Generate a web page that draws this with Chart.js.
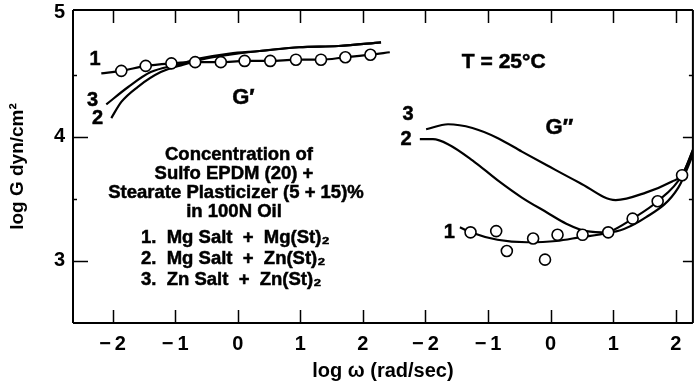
<!DOCTYPE html>
<html>
<head>
<meta charset="utf-8">
<script src="https://cdn.jsdelivr.net/npm/chart.js@4/dist/chart.umd.min.js"></script>
<style>
  html, body { margin: 0; padding: 0; background: #fff; }
  #wrap { width: 700px; height: 387px; }
</style>
</head>
<body>
<div id="wrap"><canvas id="grafik" width="700" height="387"></canvas></div>
<script>
// Sumbu x: dua panel (G' kiri, G'' kanan) berdampingan pada satu sumbu
const xTickPos = [0, 1, 2, 3, 4, 5, 6, 7, 8, 9];
const xTickLabels = ["\u2212\u20092", "\u2212\u20091", "0", "1", "2", "\u2212\u20092", "\u2212\u20091", "0", "1", "2"];
const yTickValues = [3, 4, 5];
const yMinor = [3.5, 4.5];

// G' (panel kiri), x = log omega
const gp1LineX = [-2.18, -1.86, -1.47, -1.06, -0.68, -0.27, 0.11, 0.52, 0.93, 1.33, 1.72, 2.12, 2.43];
const gp1LineY = [4.51, 4.53, 4.57, 4.59, 4.60, 4.60, 4.61, 4.61, 4.62, 4.62, 4.64, 4.66, 4.68];
const gp1PtsX = [-1.86, -1.47, -1.06, -0.68, -0.27, 0.11, 0.52, 0.93, 1.33, 1.72, 2.12];
const gp1PtsY = [4.53, 4.57, 4.59, 4.60, 4.60, 4.61, 4.61, 4.62, 4.62, 4.64, 4.66];
const gp2X = [-2.02, -1.86, -1.60, -1.23, -0.87, -0.50, -0.13, 0.35, 0.98, 1.61, 2.29];
const gp2Y = [4.15, 4.28, 4.40, 4.52, 4.58, 4.63, 4.66, 4.69, 4.72, 4.73, 4.76];
const gp3X = [-2.10, -1.75, -1.39, -0.96, -0.60, -0.13, 0.35, 0.98, 1.61, 2.29];
const gp3Y = [4.26, 4.40, 4.52, 4.58, 4.63, 4.67, 4.69, 4.72, 4.73, 4.76];

// G'' (panel kanan)
const gpp1LineX = [-1.45, -1.28, -0.85, -0.38, 0.09, 0.46, 0.92, 1.31, 1.71, 2.10, 2.31];
const gpp1LineY = [3.27, 3.23, 3.17, 3.15, 3.16, 3.19, 3.23, 3.34, 3.48, 3.69, 3.94];
const gpp1PtsX = [-1.28, -0.87, -0.70, -0.28, -0.09, 0.11, 0.51, 0.92, 1.31, 1.71, 2.10];
const gpp1PtsY = [3.23, 3.24, 3.08, 3.18, 3.01, 3.21, 3.21, 3.23, 3.34, 3.48, 3.69];
const gpp2X = [-2.09, -1.88, -1.64, -1.25, -0.85, -0.46, -0.06, 0.25, 0.57, 0.92, 1.52, 2.04, 2.31];
const gpp2Y = [3.98, 3.98, 3.94, 3.81, 3.65, 3.51, 3.39, 3.30, 3.24, 3.23, 3.35, 3.59, 3.90];
const gpp3X = [-1.99, -1.64, -1.25, -0.85, -0.46, -0.06, 0.46, 1.04, 1.52, 1.94, 2.10, 2.31];
const gpp3Y = [4.06, 4.10, 4.07, 3.99, 3.88, 3.77, 3.63, 3.49, 3.55, 3.64, 3.69, 3.94];

const FONT = "'Liberation Sans', Arial, Helvetica, sans-serif";
const geser = [2, 7]; // offset panel pada sumbu gabungan
const titik = (xs, ys, panel) => xs.map((v, i) => ({ x: v + geser[panel], y: ys[i] }));

const garis = (xs, ys, panel) => ({
  data: titik(xs, ys, panel),
  borderColor: "#000",
  borderWidth: 2.2,
  pointRadius: 0,
  showLine: true,
  tension: 0.4,
  cubicInterpolationMode: "monotone",
  fill: false,
});
const bulat = (xs, ys, panel) => ({
  data: titik(xs, ys, panel),
  showLine: false,
  pointRadius: 5.5,
  pointBackgroundColor: "#fff",
  pointBorderColor: "#000",
  pointBorderWidth: 1.6,
});

// label kurva, dalam koordinat data
const catatan = [
  { t: "1", p: 0, x: -2.28, y: 4.62, s: 20 },
  { t: "3", p: 0, x: -2.32, y: 4.29, s: 20 },
  { t: "2", p: 0, x: -2.24, y: 4.15, s: 20 },
  { t: "G\u2032", p: 0, x: 0.09, y: 4.31, s: 22 },
  { t: "T = 25\u00b0C", p: 1, x: -0.75, y: 4.60, s: 21 },
  { t: "3", p: 1, x: -2.28, y: 4.18, s: 20 },
  { t: "2", p: 1, x: -2.31, y: 3.98, s: 20 },
  { t: "G\u2033", p: 1, x: 0.14, y: 4.07, s: 22 },
  { t: "1", p: 1, x: -1.62, y: 3.23, s: 20 },
];

function tulis(ctx, s, x, y) {
  ctx.fillText(s, x, y);
  ctx.strokeText(s, x, y);
}

const pluginBingkai = {
  id: "bingkai",
  afterDatasetsDraw(chart) {
    const { ctx, chartArea: a, scales: { x, y } } = chart;
    ctx.save();
    ctx.strokeStyle = "#000";
    ctx.lineWidth = 2;
    ctx.beginPath();
    ctx.moveTo(a.left, a.top); ctx.lineTo(a.right, a.top);
    ctx.moveTo(a.left, a.top); ctx.lineTo(a.left, a.bottom);
    ctx.moveTo(a.left, a.bottom); ctx.lineTo(a.right, a.bottom);
    ctx.moveTo(a.right, a.top); ctx.lineTo(a.right, a.bottom);
    ctx.stroke();
    ctx.lineWidth = 1.5;
    ctx.beginPath();
    xTickPos.forEach((v) => {
      const px = Math.round(x.getPixelForValue(v)) + 0.5;
      ctx.moveTo(px, a.bottom); ctx.lineTo(px, a.bottom - 13);
      ctx.moveTo(px, a.top); ctx.lineTo(px, a.top + 13);
    });
    [3, 4].forEach((v) => {
      const py = Math.round(y.getPixelForValue(v)) + 0.5;
      ctx.moveTo(a.left, py); ctx.lineTo(a.left + 15, py);
      ctx.moveTo(a.right, py); ctx.lineTo(a.right - 10, py);
    });
    yMinor.forEach((v) => {
      const py = Math.round(y.getPixelForValue(v)) + 0.5;
      ctx.moveTo(a.left, py); ctx.lineTo(a.left + 4, py);
      ctx.moveTo(a.right, py); ctx.lineTo(a.right - 4, py);
    });
    ctx.stroke();

    // label kurva
    ctx.fillStyle = "#000";
    ctx.lineWidth = 0.5;
    ctx.textAlign = "center";
    ctx.textBaseline = "middle";
    catatan.forEach((c) => {
      ctx.font = `bold ${c.s}px ${FONT}`;
      tulis(ctx, c.t, x.getPixelForValue(c.x + geser[c.p]), y.getPixelForValue(c.y));
    });

    // keterangan komposisi
    ctx.font = `bold 18.5px ${FONT}`;
    tulis(ctx, "Concentration of", 239, 155);
    tulis(ctx, "Sulfo EPDM (20) +", 234, 174);
    tulis(ctx, "Stearate Plasticizer (5 + 15)%", 236, 193);
    tulis(ctx, "in 100N Oil", 234, 212);
    ctx.textAlign = "left";
    ["1.  Mg Salt  +  Mg(St)\u2082", "2.  Mg Salt  +  Zn(St)\u2082", "3.  Zn Salt  +  Zn(St)\u2082"].forEach((s, i) => {
      tulis(ctx, s, 141, 238 + i * 21);
    });
    ctx.restore();
  },
};

new Chart(document.getElementById("grafik"), {
  type: "line",
  data: {
    datasets: [
      bulat(gp1PtsX, gp1PtsY, 0),
      bulat(gpp1PtsX, gpp1PtsY, 1),
      garis(gp1LineX, gp1LineY, 0),
      garis(gp2X, gp2Y, 0),
      garis(gp3X, gp3Y, 0),
      garis(gpp1LineX, gpp1LineY, 1),
      garis(gpp2X, gpp2Y, 1),
      garis(gpp3X, gpp3Y, 1),
    ],
  },
  options: {
    responsive: false,
    animation: false,
    devicePixelRatio: 1,
    layout: { padding: { top: 10, right: 0, left: 0, bottom: 0 } },
    plugins: { legend: { display: false }, tooltip: { enabled: false } },
    scales: {
      x: {
        type: "linear",
        min: -0.632,
        max: 9.273,
        afterBuildTicks: (s) => { s.ticks = xTickPos.map((v) => ({ value: v })); },
        afterFit: (s) => { s.height = 64; s.paddingLeft = 0; s.paddingRight = 0; },
        grid: { display: false, drawTicks: false },
        border: { display: false },
        ticks: {
          callback: (v, i) => xTickLabels[i],
          color: "#000",
          font: { family: FONT, size: 20, weight: "bold" },
          padding: 9,
          maxRotation: 0,
          autoSkip: false,
        },
        title: {
          display: true,
          text: "log \u03c9 (rad/sec)",
          color: "#000",
          font: { family: FONT, size: 20, weight: "bold" },
          padding: { top: 0, bottom: 4 },
        },
      },
      y: {
        min: 2.5,
        max: 5.02,
        afterBuildTicks: (s) => { s.ticks = yTickValues.map((v) => ({ value: v })); },
        afterFit: (s) => { s.width = 73; s.paddingTop = 0; s.paddingBottom = 0; },
        grid: { display: false, drawTicks: false },
        border: { display: false },
        ticks: {
          color: "#000",
          font: { family: FONT, size: 20, weight: "bold" },
          padding: 8,
        },
        title: {
          display: true,
          text: "log G dyn/cm\u00b2",
          color: "#000",
          font: { family: FONT, size: 19, weight: "bold" },
          padding: { top: 6, bottom: 0 },
        },
      },
    },
  },
  plugins: [pluginBingkai],
});
</script>
</body>
</html>
